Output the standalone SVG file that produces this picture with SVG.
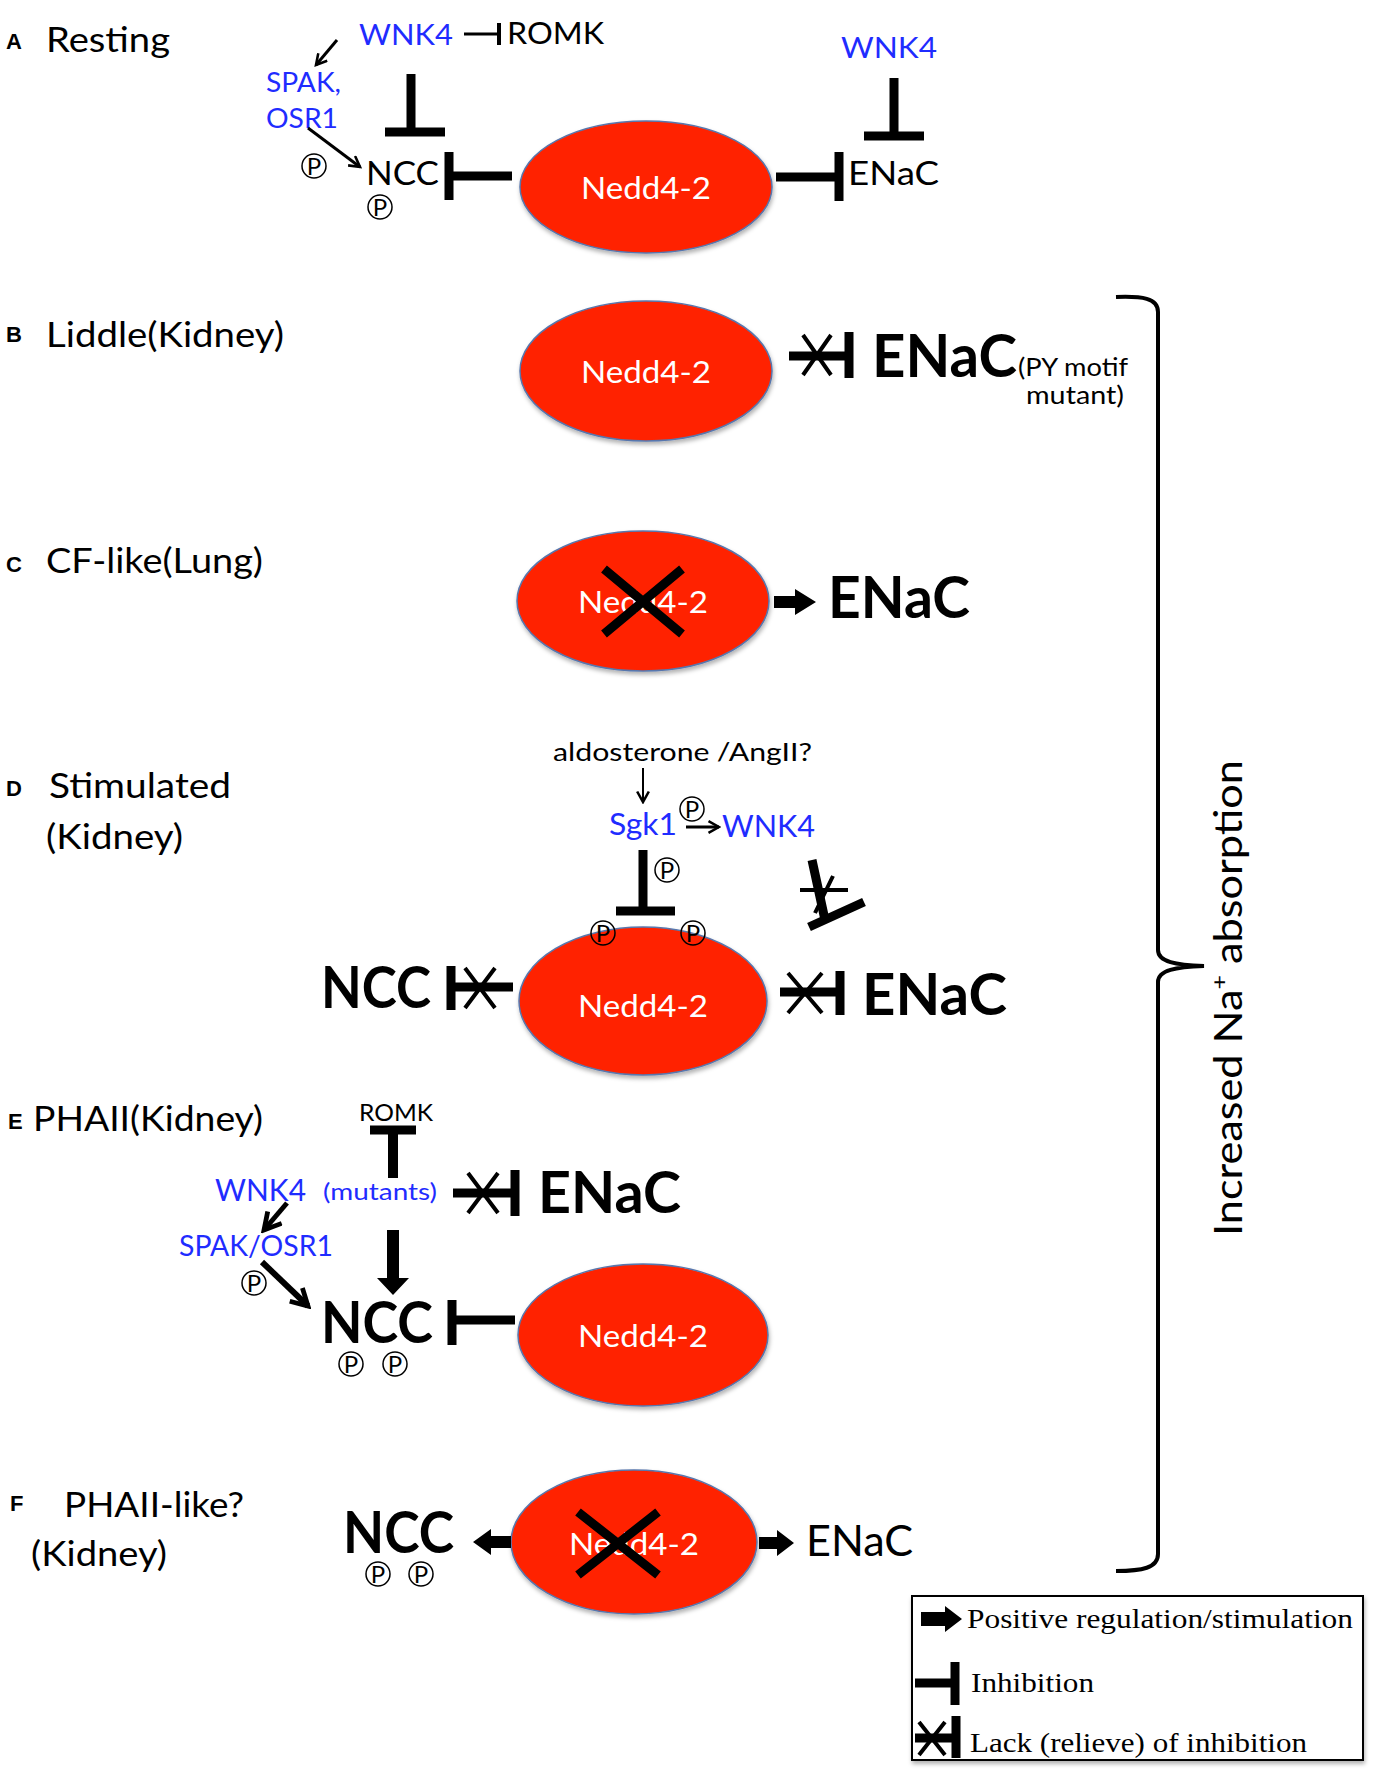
<svg xmlns="http://www.w3.org/2000/svg" width="1378" height="1778" viewBox="0 0 1378 1778">
<defs>
<style>
text{font-family:Lato,"Open Sans","DejaVu Sans",sans-serif;fill:#000}
.lbl{font-family:"Liberation Sans",Arial,sans-serif;font-weight:bold;font-size:22px}
.ttl{font-size:34px}
.blue{fill:#1f2cff}
.b{font-weight:bold}
.nedd{fill:#ff2400;stroke:#5877ad;stroke-width:1.5;filter:url(#sh)}
.nt{fill:#fff;font-size:31px;text-anchor:middle}
.inh{stroke:#000;stroke-width:9;fill:none}
.thin{stroke:#000;stroke-width:3;fill:none}
.xs{stroke:#000;stroke-width:4;fill:none}
.bigx{stroke:#000;stroke-width:9}
.pc{fill:none;stroke:#000;stroke-width:1.5}
.pt{font-size:24px;text-anchor:middle}
.leg{font-family:"Liberation Serif","Times New Roman",serif;font-size:27px}
.blk{fill:#000}
</style>
<filter id="sh" x="-10%" y="-10%" width="125%" height="130%"><feDropShadow dx="1" dy="3" stdDeviation="2" flood-color="#000" flood-opacity="0.3"/></filter>
<marker id="v" viewBox="0 0 12 12" refX="10" refY="6" markerWidth="14" markerHeight="14" markerUnits="userSpaceOnUse" orient="auto"><path d="M1,1 L10,6 L1,11" fill="none" stroke="#000" stroke-width="2.2"/></marker>
<marker id="vb" viewBox="0 0 12 12" refX="10" refY="6" markerWidth="22" markerHeight="22" markerUnits="userSpaceOnUse" orient="auto"><path d="M1,1 L10,6 L1,11" fill="none" stroke="#000" stroke-width="2.6"/></marker>
</defs>
<rect width="1378" height="1778" fill="#fff"/>

<!-- Panel labels -->
<g id="labels">
<text class="lbl" x="6" y="49">A</text>
<text class="ttl" x="46" y="52" textLength="124" lengthAdjust="spacingAndGlyphs">Resting</text>
<text class="lbl" x="6" y="342">B</text>
<text class="ttl" x="46" y="347" textLength="238" lengthAdjust="spacingAndGlyphs">Liddle(Kidney)</text>
<text class="lbl" x="6" y="572">C</text>
<text class="ttl" x="46" y="573" textLength="217" lengthAdjust="spacingAndGlyphs">CF-like(Lung)</text>
<text class="lbl" x="6" y="796">D</text>
<text class="ttl" x="49" y="798" textLength="182" lengthAdjust="spacingAndGlyphs">Stimulated</text>
<text class="ttl" x="46" y="849" textLength="137" lengthAdjust="spacingAndGlyphs">(Kidney)</text>
<text class="lbl" x="8" y="1129">E</text>
<text class="ttl" x="33" y="1131" textLength="230" lengthAdjust="spacingAndGlyphs">PHAII(Kidney)</text>
<text class="lbl" x="10" y="1511">F</text>
<text class="ttl" x="64" y="1517" textLength="180" lengthAdjust="spacingAndGlyphs">PHAII-like?</text>
<text class="ttl" x="31" y="1566" textLength="136" lengthAdjust="spacingAndGlyphs">(Kidney)</text>
</g>

<!-- Nedd4-2 nodes -->
<g id="nedd-A"><ellipse class="nedd" cx="646" cy="187" rx="126" ry="66"/><text class="nt" x="646" y="199" textLength="130" lengthAdjust="spacingAndGlyphs">Nedd4-2</text></g>
<g id="nedd-B"><ellipse class="nedd" cx="646" cy="371" rx="126" ry="70"/><text class="nt" x="646" y="383" textLength="130" lengthAdjust="spacingAndGlyphs">Nedd4-2</text></g>
<g id="nedd-C"><ellipse class="nedd" cx="643" cy="601" rx="126" ry="70"/><text class="nt" x="643" y="613" textLength="130" lengthAdjust="spacingAndGlyphs">Nedd4-2</text><path class="bigx" d="M604,569 L682,634 M682,569 L604,634"/></g>
<g id="nedd-D"><ellipse class="nedd" cx="643" cy="1001" rx="124" ry="74"/><text class="nt" x="643" y="1017" textLength="130" lengthAdjust="spacingAndGlyphs">Nedd4-2</text></g>
<g id="nedd-E"><ellipse class="nedd" cx="643" cy="1335" rx="125" ry="71"/><text class="nt" x="643" y="1347" textLength="130" lengthAdjust="spacingAndGlyphs">Nedd4-2</text></g>
<g id="nedd-F"><ellipse class="nedd" cx="634" cy="1542" rx="123" ry="72"/><text class="nt" x="634" y="1555" textLength="130" lengthAdjust="spacingAndGlyphs">Nedd4-2</text><path class="bigx" d="M578,1512 L658,1575 M658,1512 L578,1575"/></g>

<!-- Panel A nodes -->
<g id="A-wnk4"><text class="blue" x="359" y="45" font-size="29" textLength="94" lengthAdjust="spacingAndGlyphs">WNK4</text></g>
<g id="A-romk"><text x="507" y="44" font-size="31" textLength="97" lengthAdjust="spacingAndGlyphs">ROMK</text></g>
<g id="A-spak"><text class="blue" x="266" y="92" font-size="27" textLength="75" lengthAdjust="spacingAndGlyphs">SPAK,</text><text class="blue" x="266" y="128" font-size="27" textLength="72" lengthAdjust="spacingAndGlyphs">OSR1</text></g>
<g id="A-ncc"><text x="366" y="185" font-size="33" textLength="73" lengthAdjust="spacingAndGlyphs">NCC</text>
<circle class="pc" cx="314" cy="166" r="12"/><text class="pt" x="314" y="175">P</text>
<circle class="pc" cx="380" cy="207" r="12"/><text class="pt" x="380" y="216">P</text></g>
<g id="A-enac"><text x="848" y="185" font-size="33" textLength="91" lengthAdjust="spacingAndGlyphs">ENaC</text></g>
<g id="A-wnk4r"><text class="blue" x="841" y="58" font-size="29" textLength="96" lengthAdjust="spacingAndGlyphs">WNK4</text></g>

<!-- Panel B nodes -->
<g id="B-enac"><text class="b" x="872" y="377" font-size="60" textLength="145" lengthAdjust="spacingAndGlyphs">ENaC</text>
<text x="1018" y="376" font-size="25" textLength="110" lengthAdjust="spacingAndGlyphs">(PY motif</text>
<text x="1124" y="404" font-size="25" text-anchor="end" textLength="98" lengthAdjust="spacingAndGlyphs">mutant)</text></g>

<!-- Panel C nodes -->
<g id="C-enac"><text class="b" x="828" y="618" font-size="58" textLength="142" lengthAdjust="spacingAndGlyphs">ENaC</text></g>

<!-- Panel D nodes -->
<g id="D-aldo"><text x="553" y="761" font-size="25" textLength="259" lengthAdjust="spacingAndGlyphs">aldosterone<tspan dx="6">/AngII?</tspan></text></g>
<g id="D-sgk1"><text class="blue" x="609" y="835" font-size="30" textLength="68" lengthAdjust="spacingAndGlyphs">Sgk1</text>
<circle class="pc" cx="692" cy="809" r="12"/><text class="pt" x="692" y="818">P</text></g>
<g id="D-wnk4"><text class="blue" x="722" y="837" font-size="30" textLength="93" lengthAdjust="spacingAndGlyphs">WNK4</text></g>
<g id="D-ncc"><text class="b" x="321" y="1008" font-size="58" textLength="110" lengthAdjust="spacingAndGlyphs">NCC</text></g>
<g id="D-enac"><text class="b" x="862" y="1015" font-size="58" textLength="145" lengthAdjust="spacingAndGlyphs">ENaC</text></g>
<g id="D-p"><circle class="pc" cx="667" cy="870" r="12"/><text class="pt" x="667" y="879">P</text>
<circle class="pc" cx="603" cy="933" r="12"/><text class="pt" x="603" y="942">P</text>
<circle class="pc" cx="693" cy="933" r="12"/><text class="pt" x="693" y="942">P</text></g>

<!-- Panel E nodes -->
<g id="E-romk"><text x="359" y="1121" font-size="24" textLength="74" lengthAdjust="spacingAndGlyphs">ROMK</text></g>
<g id="E-wnk4"><text class="blue" x="215" y="1201" font-size="31" textLength="91" lengthAdjust="spacingAndGlyphs">WNK4</text><text class="blue" x="323" y="1200" font-size="23" textLength="114" lengthAdjust="spacingAndGlyphs">(mutants)</text></g>
<g id="E-spak"><text class="blue" x="179" y="1256" font-size="28" textLength="154" lengthAdjust="spacingAndGlyphs">SPAK/OSR1</text>
<circle class="pc" cx="254" cy="1283" r="12"/><text class="pt" x="254" y="1292">P</text></g>
<g id="E-enac"><text class="b" x="538" y="1213" font-size="58" textLength="143" lengthAdjust="spacingAndGlyphs">ENaC</text></g>
<g id="E-ncc"><text class="b" x="321" y="1343" font-size="58" textLength="112" lengthAdjust="spacingAndGlyphs">NCC</text>
<circle class="pc" cx="351" cy="1364" r="12"/><text class="pt" x="351" y="1373">P</text>
<circle class="pc" cx="395" cy="1364" r="12"/><text class="pt" x="395" y="1373">P</text></g>

<!-- Panel F nodes -->
<g id="F-ncc"><text class="b" x="343" y="1553" font-size="57" textLength="111" lengthAdjust="spacingAndGlyphs">NCC</text>
<circle class="pc" cx="378" cy="1574" r="12"/><text class="pt" x="378" y="1583">P</text>
<circle class="pc" cx="421" cy="1574" r="12"/><text class="pt" x="421" y="1583">P</text></g>
<g id="F-enac"><text x="806" y="1556" font-size="42" textLength="107" lengthAdjust="spacingAndGlyphs">ENaC</text></g>

<!-- Connectors -->
<g id="connectors">
<!-- A -->
<path class="thin" d="M464,34 L499,34"/><path stroke="#000" stroke-width="4" d="M499,23 L499,45"/>
<path class="thin" d="M337,40 L316,65" marker-end="url(#v)"/>
<path class="thin" d="M308,128 L360,167" marker-end="url(#v)"/>
<path class="inh" d="M411,74 L411,130 M385,132 L445,132"/>
<path class="inh" d="M449,152 L449,200 M449,176 L512,176"/>
<path class="inh" d="M776,177 L839,177 M839,152 L839,201"/>
<path class="inh" d="M894,78 L894,134 M864,136 L924,136"/>
<!-- B -->
<path class="inh" d="M789,356 L849,356 M849,332 L849,378"/>
<path class="xs" d="M803,335 L831,375 M831,335 L803,375"/>
<!-- C -->
<polygon class="blk" points="774,596 795,596 795,589 816,602 795,615 795,608 774,608"/>
<!-- D -->
<path stroke="#000" stroke-width="2" fill="none" d="M643,768 L643,802" marker-end="url(#v)"/>
<path stroke="#000" stroke-width="3" fill="none" d="M686,827 L719,827" marker-end="url(#v)"/>
<path class="inh" d="M643,850 L643,907 M616,911 L675,911"/>
<path class="inh" d="M812,860 L825,920 M809,927 L864,902"/>
<path class="xs" d="M800,890 L848,890 M833,876 L815,913"/>
<path class="inh" d="M451,966 L451,1010 M451,987 L513,987"/>
<path class="xs" d="M465,968 L495,1008 M495,968 L465,1008"/>
<path class="inh" d="M780,992 L840,992 M840,971 L840,1015"/>
<path class="xs" d="M788,973 L822,1013 M822,973 L788,1013"/>
<!-- E -->
<path class="inh" d="M370,1130 L416,1130"/><path stroke="#000" stroke-width="10" d="M393,1130 L393,1178"/>
<path class="inh" d="M453,1193 L515,1193 M515,1170 L515,1216"/>
<path class="xs" d="M468,1173 L498,1213 M498,1173 L468,1213"/>
<path stroke="#000" stroke-width="5" fill="none" d="M287,1203 L264,1230" marker-end="url(#vb)"/>
<path stroke="#000" stroke-width="6" fill="none" d="M262,1262 L308,1306" marker-end="url(#vb)"/>
<polygon class="blk" points="387,1230 399,1230 399,1278 409,1278 393,1295 377,1278 387,1278"/>
<path class="inh" d="M452,1300 L452,1345 M452,1320 L515,1320"/>
<!-- F -->
<polygon class="blk" points="511,1536 491,1536 491,1529 473,1542 491,1555 491,1548 511,1548"/>
<polygon class="blk" points="759,1537 777,1537 777,1530 794,1543 777,1556 777,1549 759,1549"/>
</g>

<!-- Brace and side label -->
<g id="brace">
<path fill="none" stroke="#000" stroke-width="4" d="M1116,297 C1142,296 1158,298 1158,312 L1158,950 C1158,962 1176,965 1204,966 C1176,967 1158,970 1158,982 L1158,1554 C1158,1568 1142,1571 1116,1571"/>
<text transform="translate(1242,1236) rotate(-90)" x="0" y="0" font-size="38" textLength="476" lengthAdjust="spacingAndGlyphs">Increased Na<tspan font-size="22" dy="-15">+</tspan><tspan dy="15"> absorption</tspan></text>
</g>

<!-- Legend -->
<g id="legend">
<rect x="912" y="1596" width="451" height="164" fill="#fff" stroke="#000" stroke-width="2" filter="url(#sh)"/>
<polygon class="blk" points="921,1612 945,1612 945,1606 962,1619 945,1632 945,1626 921,1626"/>
<text class="leg" x="967" y="1628" textLength="386" lengthAdjust="spacingAndGlyphs">Positive regulation/stimulation</text>
<path class="inh" d="M915,1683 L955,1683 M955,1662 L955,1705"/>
<text class="leg" x="971" y="1692" textLength="123" lengthAdjust="spacingAndGlyphs">Inhibition</text>
<path class="inh" d="M915,1738 L956,1738 M956,1716 L956,1758"/>
<path class="xs" d="M919,1722 L945,1755 M945,1722 L919,1755"/>
<text class="leg" x="970" y="1752" textLength="337" lengthAdjust="spacingAndGlyphs">Lack (relieve) of inhibition</text>
</g>
</svg>
